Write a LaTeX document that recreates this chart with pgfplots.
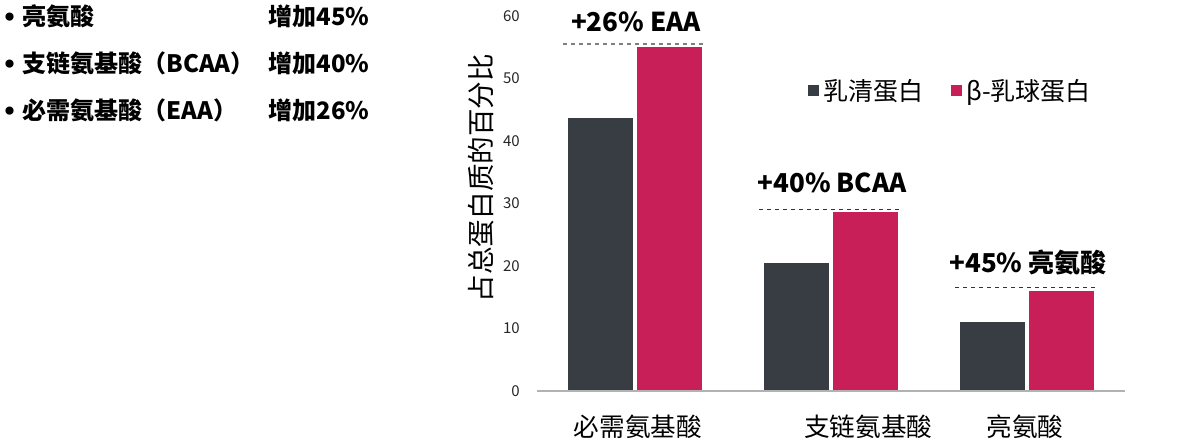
\documentclass[border=0pt]{standalone}
\usepackage{fontspec}
\setmainfont{Noto Sans CJK SC}
\newfontfamily\dejavu{DejaVu Sans}
\usepackage{pgfplots}
\pgfplotsset{compat=1.18}
\definecolor{whey}{HTML}{373D42}
\definecolor{blg}{HTML}{C91F58}
\begin{document}
\begin{tikzpicture}
\useasboundingbox (0,0) rectangle (600pt,220pt);
% left list
\begin{scope}[every node/.style={font=\bfseries\fontsize{12}{14}\selectfont, inner sep=0pt, anchor=west}]
\node[font=\dejavu\fontsize{14}{14}\selectfont] at (0.5pt,210pt) {•};
\node at (11pt,212pt) {亮氨酸};
\node at (134pt,212pt) {增加45\%};
\node[font=\dejavu\fontsize{14}{14}\selectfont] at (0.5pt,186.5pt) {•};
\node at (11pt,188.5pt) {支链氨基酸（BCAA）};
\node at (134pt,188.5pt) {增加40\%};
\node[font=\dejavu\fontsize{14}{14}\selectfont] at (0.5pt,163pt) {•};
\node at (11pt,165pt) {必需氨基酸（EAA）};
\node at (134pt,165pt) {增加26\%};
\end{scope}
\node[rotate=90, font=\fontsize{13.8}{15}\selectfont, inner sep=0pt] at (240.5pt,131pt) {占总蛋白质的百分比};
\begin{axis}[
  at={(268.5pt,24.5pt)}, anchor=south west,
  scale only axis, width=294pt, height=187.5pt,
  ybar, clip=false, axis on top,
  xmin=-0.5, xmax=2.5, ymin=0, ymax=60,
  axis x line=bottom, axis y line=left,
  x axis line style={draw=gray!60, -, line width=0.8pt},
  y axis line style={draw=none},
  tick style={draw=none},
  ytick={0,10,20,30,40,50,60},
  yticklabel style={font=\fontsize{7.5}{8}\selectfont, text=black!85, anchor=east, xshift=-3pt},
  /pgf/number format/assume math mode=true,
  xtick={0.015,1.19,1.99},
  xticklabels={必需氨基酸,支链氨基酸,亮氨酸},
  xticklabel style={font=\fontsize{12.8}{14}\selectfont, anchor=center, yshift=-15.5pt},
  legend style={at={(0.461,0.8)}, anchor=west, draw=none, fill=none, inner sep=0pt,
    font=\fontsize{12.5}{14}\selectfont,
    /tikz/every even column/.append style={column sep=12pt}},
  legend columns=2,
  legend image code/.code={\fill[#1, draw=none] (0pt,-2.75pt) rectangle (5.5pt,2.75pt);},
]
\addplot[fill=whey, draw=white, line width=0.6pt, bar shift=-0.176, bar width=0.342] coordinates {(0,43.7) (1,20.5) (2,11.1)};
\addplot[fill=blg, draw=white, line width=0.6pt, bar shift=0.176, bar width=0.342] coordinates {(0,55.2) (1,28.8) (2,16.1)};
\legend{乳清蛋白, β-乳球蛋白}
\draw[dash pattern=on 2pt off 2pt, gray, line width=0.7pt] (axis cs:-0.367,55.5) -- (axis cs:0.357,55.5);
\draw[dash pattern=on 2pt off 2pt, black!80, line width=0.6pt] (axis cs:0.633,29.1) -- (axis cs:1.357,29.1);
\draw[dash pattern=on 2pt off 2pt, black!80, line width=0.6pt] (axis cs:1.633,16.5) -- (axis cs:2.357,16.5);
\node[font=\bfseries\fontsize{13}{15}\selectfont, inner sep=0pt] at (axis cs:0.005,59.0) {+26\% EAA};
\node[font=\bfseries\fontsize{13}{15}\selectfont, inner sep=0pt] at (axis cs:1.005,33.3) {+40\% BCAA};
\node[font=\bfseries\fontsize{13}{15}\selectfont, inner sep=0pt] at (axis cs:2.005,20.5) {+45\% 亮氨酸};
\end{axis}
\end{tikzpicture}
\end{document}
